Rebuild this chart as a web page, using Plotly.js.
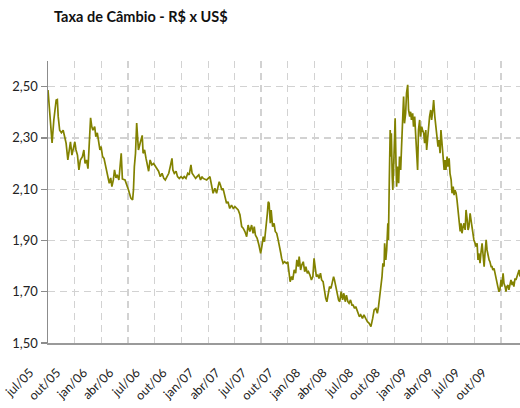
<!DOCTYPE html>
<html>
<head>
<meta charset="utf-8">
<script src="https://cdn.plot.ly/plotly-3.0.1.min.js"></script>
<style>html,body{margin:0;padding:0;background:#fff;}#chart{width:520px;height:408px;}</style>
</head>
<body>
<div id="chart"></div>
<script>
const chartTitle = 'Taxa de Câmbio - R$ x US$';

const dates = [
  '2005-07-01','2005-07-06','2005-07-10','2005-07-15','2005-07-21','2005-07-25','2005-07-29','2005-08-02','2005-08-05','2005-08-10',
  '2005-08-16','2005-08-22','2005-08-28','2005-09-01','2005-09-07','2005-09-13','2005-09-16','2005-09-21','2005-09-25','2005-10-01',
  '2005-10-05','2005-10-10','2005-10-15','2005-10-20','2005-10-27','2005-11-01','2005-11-05','2005-11-10','2005-11-15','2005-11-19',
  '2005-11-24','2005-11-28','2005-12-02','2005-12-08','2005-12-12','2005-12-17','2005-12-22','2005-12-26','2005-12-30',
  '2006-01-04','2006-01-09','2006-01-13','2006-01-18','2006-01-22','2006-01-27','2006-02-01','2006-02-05','2006-02-10','2006-02-14',
  '2006-02-19','2006-02-23','2006-03-01','2006-03-05','2006-03-09','2006-03-13','2006-03-22','2006-04-03','2006-04-11','2006-04-17',
  '2006-04-20','2006-04-23','2006-04-27','2006-05-01','2006-05-07','2006-05-13','2006-05-20','2006-05-23','2006-05-28','2006-06-02',
  '2006-06-06','2006-06-11','2006-06-16','2006-06-22','2006-06-28','2006-07-04','2006-07-10','2006-07-15','2006-07-21','2006-07-27',
  '2006-08-02','2006-08-07','2006-08-13','2006-08-19','2006-08-24','2006-08-30','2006-09-02','2006-09-07','2006-09-13','2006-09-18',
  '2006-09-24','2006-09-30','2006-10-06','2006-10-11','2006-10-17','2006-10-23','2006-10-28','2006-11-03','2006-11-07','2006-11-13',
  '2006-11-19','2006-11-24','2006-11-30','2006-12-06','2006-12-11','2006-12-15','2006-12-27',
  '2007-01-07','2007-01-13','2007-01-18','2007-01-24','2007-01-30','2007-02-04','2007-02-08','2007-02-12','2007-02-17','2007-02-21',
  '2007-02-27','2007-03-05','2007-03-10','2007-03-16','2007-03-22','2007-03-28','2007-04-03','2007-04-09','2007-04-14','2007-04-20',
  '2007-04-26','2007-05-01','2007-05-07','2007-05-13','2007-05-18','2007-05-24','2007-05-30','2007-06-04','2007-06-08','2007-06-12',
  '2007-06-18','2007-06-24','2007-06-30','2007-07-04','2007-07-09','2007-07-13','2007-07-18','2007-07-23','2007-07-26','2007-07-29',
  '2007-08-02','2007-08-05','2007-08-10','2007-08-15','2007-08-19','2007-08-24','2007-08-29','2007-09-02','2007-09-07','2007-09-10',
  '2007-09-15','2007-09-20','2007-09-26','2007-10-01','2007-10-05','2007-10-09','2007-10-14','2007-10-18','2007-10-23','2007-10-28',
  '2007-11-01','2007-11-06','2007-11-09','2007-11-14','2007-11-18','2007-11-23','2007-11-28','2007-12-02','2007-12-07','2007-12-11',
  '2007-12-16','2007-12-21','2007-12-26','2007-12-30',
  '2008-01-02','2008-01-07','2008-01-12','2008-01-16','2008-01-21','2008-01-25','2008-01-30','2008-02-03','2008-02-08','2008-02-12',
  '2008-02-17','2008-02-21','2008-02-26','2008-03-01','2008-03-06','2008-03-09','2008-03-14','2008-03-18','2008-03-23','2008-03-27',
  '2008-04-01','2008-04-06','2008-04-10','2008-04-15','2008-04-19','2008-04-24','2008-04-28','2008-05-03','2008-05-08','2008-05-12',
  '2008-05-17','2008-05-21','2008-05-26','2008-05-31','2008-06-02','2008-06-07','2008-06-13','2008-06-18','2008-06-24','2008-06-30',
  '2008-07-06','2008-07-12','2008-07-18','2008-07-23','2008-07-29','2008-08-03','2008-08-07','2008-08-12','2008-08-15','2008-08-19',
  '2008-08-22','2008-08-26','2008-08-28','2008-09-01','2008-09-04','2008-09-08','2008-09-10','2008-09-13','2008-09-16','2008-09-18',
  '2008-09-20','2008-09-23','2008-09-25','2008-09-29','2008-10-01','2008-10-03','2008-10-06','2008-10-08','2008-10-11','2008-10-15',
  '2008-10-18','2008-10-22','2008-10-25','2008-10-29','2008-11-01','2008-11-04','2008-11-08','2008-11-11','2008-11-15','2008-11-18',
  '2008-11-22','2008-11-25','2008-11-28','2008-12-02','2008-12-05','2008-12-09','2008-12-12','2008-12-15','2008-12-19','2008-12-22',
  '2008-12-26','2008-12-29',
  '2009-01-02','2009-01-05','2009-01-09','2009-01-12','2009-01-16','2009-01-19','2009-01-22','2009-01-26','2009-01-29','2009-02-02',
  '2009-02-05','2009-02-09','2009-02-12','2009-02-16','2009-02-20','2009-02-23','2009-02-27','2009-03-02','2009-03-06','2009-03-09',
  '2009-03-13','2009-03-16','2009-03-20','2009-03-23','2009-03-26','2009-03-30','2009-04-02','2009-04-06','2009-04-09','2009-04-13',
  '2009-04-16','2009-04-20','2009-04-23','2009-04-26','2009-04-30','2009-05-03','2009-05-07','2009-05-10','2009-05-14','2009-05-17',
  '2009-05-20','2009-05-24','2009-05-27','2009-05-31','2009-06-03','2009-06-07','2009-06-10','2009-06-13','2009-06-17','2009-06-20',
  '2009-06-24','2009-06-27','2009-06-30','2009-07-04','2009-07-07','2009-07-11','2009-07-14','2009-07-17','2009-07-21','2009-07-24',
  '2009-07-28','2009-07-31','2009-08-04','2009-08-07','2009-08-11','2009-08-14','2009-08-18','2009-08-21','2009-08-24','2009-08-28',
  '2009-08-31','2009-09-03','2009-09-07','2009-09-10','2009-09-14','2009-09-17','2009-09-20','2009-09-24','2009-09-27','2009-10-01',
  '2009-10-04','2009-10-08','2009-10-11','2009-10-15','2009-10-18','2009-10-21','2009-10-25','2009-10-28','2009-11-01','2009-11-04',
  '2009-11-08','2009-11-11','2009-11-14','2009-11-18','2009-11-21','2009-11-25','2009-11-28','2009-12-02','2009-12-05'
];

const rates = [
  2.487,2.40,2.345,2.28,2.37,2.40,2.448,2.45,2.383,2.33,
  2.32,2.33,2.30,2.28,2.214,2.266,2.285,2.233,2.26,2.285,
  2.253,2.233,2.175,2.214,2.227,2.253,2.20,2.214,2.18,2.266,
  2.378,2.344,2.33,2.344,2.305,2.32,2.273,2.253,2.266,
  2.227,2.22,2.20,2.175,2.149,2.123,2.144,2.11,2.136,2.175,
  2.144,2.156,2.136,2.188,2.24,2.14,2.136,2.097,2.065,2.058,
  2.097,2.188,2.24,2.358,2.253,2.28,2.31,2.24,2.253,2.22,
  2.195,2.17,2.214,2.195,2.20,2.188,2.18,2.17,2.149,2.162,
  2.142,2.136,2.149,2.162,2.188,2.22,2.175,2.162,2.17,2.149,
  2.142,2.149,2.142,2.149,2.142,2.162,2.156,2.195,2.162,2.149,
  2.142,2.149,2.156,2.136,2.149,2.142,2.136,
  2.149,2.11,2.084,2.103,2.084,2.11,2.129,2.116,2.097,2.103,
  2.071,2.045,2.051,2.025,2.038,2.025,2.032,2.025,2.019,2.00,
  1.954,1.948,1.935,1.915,1.96,1.935,1.96,1.928,1.954,1.921,
  1.908,1.882,1.85,1.876,1.915,1.895,1.94,2.006,2.051,2.045,
  1.967,2.019,1.954,1.967,1.935,1.928,1.902,1.87,1.85,1.83,
  1.811,1.817,1.811,1.817,1.778,1.739,1.759,1.746,1.785,1.772,
  1.824,1.798,1.837,1.785,1.804,1.817,1.778,1.798,1.772,1.778,
  1.765,1.746,1.759,1.83,
  1.804,1.759,1.765,1.752,1.772,1.746,1.739,1.707,1.674,1.661,
  1.694,1.72,1.713,1.733,1.759,1.746,1.72,1.687,1.668,1.661,
  1.70,1.668,1.694,1.661,1.687,1.661,1.655,1.668,1.648,1.648,
  1.635,1.642,1.629,1.61,1.603,1.61,1.596,1.61,1.596,1.583,
  1.577,1.564,1.596,1.629,1.635,1.616,1.642,1.681,1.72,1.759,
  1.811,1.798,1.889,1.824,1.863,1.967,1.902,2.136,2.331,2.227,
  2.318,2.149,2.097,2.227,2.344,2.377,2.20,2.11,2.188,2.123,
  2.227,2.175,2.266,2.357,2.461,2.357,2.396,2.474,2.507,2.409,
  2.383,2.402,2.37,2.396,2.344,2.383,2.305,2.253,2.175,2.331,
  2.37,2.305,
  2.344,2.331,2.318,2.279,2.331,2.253,2.305,2.331,2.383,2.409,
  2.37,2.409,2.448,2.383,2.331,2.30,2.266,2.292,2.24,2.331,
  2.266,2.253,2.175,2.214,2.175,2.227,2.188,2.22,2.162,2.136,
  2.084,2.11,2.077,2.097,2.084,2.058,2.019,1.967,1.935,1.967,
  1.928,1.954,1.967,1.941,2.019,1.98,1.941,1.954,2.006,1.98,
  1.941,1.928,1.902,1.889,1.876,1.889,1.824,1.85,1.811,1.85,
  1.889,1.85,1.798,1.85,1.902,1.863,1.837,1.824,1.817,1.798,
  1.798,1.785,1.791,1.772,1.746,1.739,1.72,1.70,1.707,1.746,
  1.72,1.772,1.733,1.72,1.70,1.72,1.726,1.707,1.733,1.746,
  1.726,1.739,1.72,1.752,1.746,1.759,1.772,1.785,1.759
];

const tickDates = ['2005-07-01','2005-10-01','2006-01-01','2006-04-01','2006-07-01','2006-10-01','2007-01-01','2007-04-01','2007-07-01',
  '2007-10-01','2008-01-01','2008-04-01','2008-07-01','2008-10-01','2009-01-01','2009-04-01','2009-07-01','2009-10-01'];
const tickLabels = ['jul/05','out/05','jan/06','abr/06','jul/06','out/06','jan/07','abr/07','jul/07',
  'out/07','jan/08','abr/08','jul/08','out/08','jan/09','abr/09','jul/09','out/09'];
const yTicks = [1.5, 1.7, 1.9, 2.1, 2.3, 2.5];

const trace = {
  x: dates, y: rates, type: 'scatter', mode: 'lines',
  line: {color: '#828200', width: 1.7}, hoverinfo: 'skip'
};

const layout = {
  width: 520, height: 408,
  margin: {l: 48, r: 0, t: 61, b: 65},
  paper_bgcolor: '#ffffff', plot_bgcolor: '#ffffff',
  separators: ', ',
  showlegend: false,
  font: {family: 'Lato, sans-serif', size: 13, color: '#222222'},
  title: {
    text: '<b>' + chartTitle + '</b>',
    font: {family: 'Lato, sans-serif', size: 14.5, color: '#111111'},
    x: 54/520, xref: 'container', xanchor: 'left',
    y: 1 - 17/408, yref: 'container', yanchor: 'middle'
  },
  xaxis: {
    type: 'date', range: ['2005-07-01', '2009-12-05'],
    tickmode: 'array', tickvals: tickDates, ticktext: tickLabels,
    tickangle: -45, tickfont: {size: 12.5, color: '#222222'},
    ticklabelstandoff: 16, ticklabelshift: -18,
    showgrid: true, gridcolor: '#d2d2d2', gridwidth: 1.2, griddash: '7px,5px',
    showline: true, linecolor: '#9a9a9a', linewidth: 1.5,
    ticks: '', zeroline: false, fixedrange: true
  },
  yaxis: {
    range: [1.5, 2.6], tickmode: 'array', tickvals: yTicks, tickformat: '.2f',
    tickfont: {size: 13, color: '#222222'},
    showgrid: true, gridcolor: '#d2d2d2', gridwidth: 1.2, griddash: '7px,5px',
    showline: true, linecolor: '#8c8c8c', linewidth: 1.5,
    ticks: 'outside', ticklen: 6, tickcolor: '#8c8c8c', tickwidth: 1.2,
    zeroline: false, fixedrange: true
  }
};

Plotly.newPlot('chart', [trace], layout, {displayModeBar: false, staticPlot: true});
</script>
</body>
</html>
